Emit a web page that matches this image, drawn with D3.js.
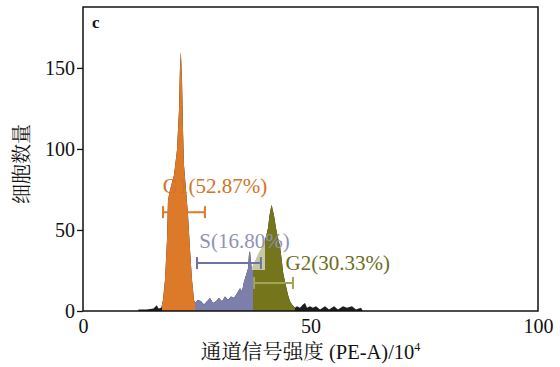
<!DOCTYPE html>
<html>
<head>
<meta charset="utf-8">
<script src="https://cdn.jsdelivr.net/npm/d3@7/dist/d3.min.js"></script>
<style>
  html, body { margin: 0; padding: 0; background: #fff; }
  svg { display: block; }
</style>
</head>
<body>
<svg id="chart" width="560" height="367"></svg>
<script>
// DNA content histogram (PE-A channel, x10^4) with cell-cycle gates
const channel = [
  12.1, 12.2, 14.0, 15.5, 16.2, 16.6, 17.2,
  17.36, 17.58, 18.02, 18.46, 18.68, 19.12, 20.0, 20.66, 21.1, 21.3, 21.5,
  21.76, 21.98, 22.2, 22.64, 23.08, 23.52, 23.96, 24.4,
  24.62, 25.27, 25.93, 26.59, 27.25, 27.91, 28.57, 29.23, 29.89, 30.55,
  31.21, 31.87, 32.53, 33.19, 33.85, 34.51, 34.95, 35.38, 35.82, 36.26,
  36.48, 36.70, 36.92, 37.14,
  37.36, 38.02, 38.68, 39.56, 40.22, 40.66, 40.99, 41.32, 41.47, 41.65,
  41.98, 42.42, 42.86, 43.30, 43.74, 43.96, 44.40, 45.05, 45.49, 45.93,
  46.59, 47.03, 47.69, 48.35, 48.79, 49.23, 49.89, 50.55, 51.21, 52.09,
  53.19, 54.07, 55.16, 56.04, 57.14, 58.02, 59.12, 60.0, 61.1, 61.5
];
const count = [
  0, 1, 1, 1.5, 3.5, 1.5, 2,
  4, 6.8, 19.1, 43.8, 68.5, 74.7, 84, 99.4, 124, 148.8, 160,
  142.6, 111.7, 90, 74.7, 59.3, 37.7, 19.1, 6.8,
  5, 7, 6, 4, 6, 8, 5, 6, 8, 6,
  9, 7, 9, 8, 11, 14, 12, 18, 22, 26,
  35, 37, 30, 26,
  28, 32, 36, 40, 46, 51, 59, 64, 65.4, 63,
  59, 51, 45, 40, 30, 24, 18, 10, 6, 4,
  2, 3, 2, 4, 5, 2, 3, 2, 3, 1,
  3, 1, 3, 1, 3, 2, 3, 1, 2, 0
];

// Gates: name, percentage, channel range, marker placement
const gateNames = ["G1", "S", "G2"];
const gatePercent = [52.87, 16.80, 30.33];
const gateStart = [17.36, 24.62, 37.36];
const gateEnd = [24.62, 37.36, 46.59];
const markerFrom = [17.58, 25.05, 37.6];
const markerTo = [26.8, 39.1, 46.15];
const markerLevel = [61, 29.6, 17.3];
const labelChannel = [29.0, 35.5, 56.0];
const labelCount = [73, 39, 25];

const xTicks = [0, 50, 100];
const yTicks = [0, 50, 100, 150];

const gateColor = ["#dc7a2c", "#7b7eab", "#75751f"];
const markerColor = ["#dc7a2c", "#6f73a3", "#a3a35a"];
const labelColor = ["#d2742a", "#8f92b6", "#6e6d1c"];

const SERIF = "Liberation Serif";
const CJK = "Noto Serif CJK SC";

const svg = d3.select("#chart");
const margin = { left: 83, top: 7, right: 22, bottom: 56 };
const W = 560, H = 367;

const x = d3.scaleLinear().domain([0, 100]).range([margin.left, W - margin.right]);
const y = d3.scaleLinear().domain([0, 187.6]).range([H - margin.bottom, margin.top]);

const pts = channel.map((c, i) => [c, count[i]]);
const area = d3.area().x(d => x(d[0])).y0(y(0)).y1(d => y(d[1]));

const defs = svg.append("defs");
defs.append("filter").attr("id", "soft")
  .append("feGaussianBlur").attr("stdDeviation", 0.6);

gateNames.forEach((g, i) => {
  defs.append("clipPath").attr("id", "clip-" + g)
    .append("rect")
    .attr("x", x(gateStart[i])).attr("width", x(gateEnd[i]) - x(gateStart[i]))
    .attr("y", 0).attr("height", H);
});

const hist = svg.append("g").attr("filter", "url(#soft)");
// ungated events in black
hist.append("path").datum(pts).attr("d", area).attr("fill", "#1e1e1e");
gateNames.forEach((g, i) => {
  hist.append("path").datum(pts).attr("d", area)
    .attr("fill", gateColor[i]).attr("clip-path", "url(#clip-" + g + ")");
});
// translucent gate overlap highlight
hist.append("rect")
  .attr("x", x(37.1)).attr("width", x(40.0) - x(37.1))
  .attr("y", y(62.3)).attr("height", y(25.3) - y(62.3))
  .attr("fill", "#ffffff").attr("opacity", 0.6);

// gate markers and labels
const markers = svg.append("g");
gateNames.forEach((g, i) => {
  const mg = markers.append("g").attr("stroke", markerColor[i]).attr("stroke-width", 2);
  const yy = y(markerLevel[i]);
  mg.append("line").attr("x1", x(markerFrom[i])).attr("x2", x(markerTo[i]))
    .attr("y1", yy).attr("y2", yy);
  [markerFrom[i], markerTo[i]].forEach(v => {
    mg.append("line").attr("x1", x(v)).attr("x2", x(v))
      .attr("y1", yy - 6).attr("y2", yy + 6);
  });
  svg.append("text")
    .attr("x", x(labelChannel[i])).attr("y", y(labelCount[i]))
    .attr("text-anchor", "middle").attr("font-size", 21)
    .attr("font-family", SERIF)
    .attr("fill", labelColor[i])
    .text(g + "(" + gatePercent[i].toFixed(2) + "%)");
});

// frame
svg.append("rect")
  .attr("x", x(0)).attr("y", y(187.6))
  .attr("width", x(100) - x(0)).attr("height", y(0) - y(187.6))
  .attr("fill", "none").attr("stroke", "#111").attr("stroke-width", 1.5);

// axes
const yAxis = svg.append("g").attr("transform", `translate(${x(0)},0)`)
  .call(d3.axisLeft(y).tickValues(yTicks).tickSize(6).tickPadding(2));
const xAxis = svg.append("g").attr("transform", `translate(0,${y(0)})`)
  .call(d3.axisBottom(x).tickValues(xTicks).tickSize(0).tickPadding(8));
[yAxis, xAxis].forEach(a => {
  a.select(".domain").remove();
  a.attr("font-family", SERIF);
  a.selectAll("text").attr("font-size", 20).attr("fill", "#111")
    .attr("font-family", SERIF);
  a.selectAll("line").attr("stroke", "#111").attr("stroke-width", 1.3);
});

// panel letter
svg.append("text").attr("x", 92).attr("y", 28)
  .attr("font-family", SERIF)
  .attr("font-size", 17).attr("font-weight", "bold").attr("fill", "#111").text("c");

// axis titles
const xt = svg.append("text")
  .attr("x", (x(0) + x(100)) / 2).attr("y", 359)
  .attr("text-anchor", "middle").attr("font-size", 20.5).attr("fill", "#111")
  .attr("font-family", SERIF);
xt.append("tspan").attr("font-family", CJK).text("通道信号强度 ");
xt.append("tspan").attr("font-family", SERIF).text("(PE-A)/10");
xt.append("tspan").attr("font-family", SERIF).attr("font-size", 12).attr("dy", -8).text("4");

svg.append("text")
  .attr("transform", "translate(29,164) rotate(-90)")
  .attr("text-anchor", "middle").attr("font-size", 20).attr("fill", "#111")
  .attr("font-family", CJK)
  .text("细胞数量");
</script>
</body>
</html>
